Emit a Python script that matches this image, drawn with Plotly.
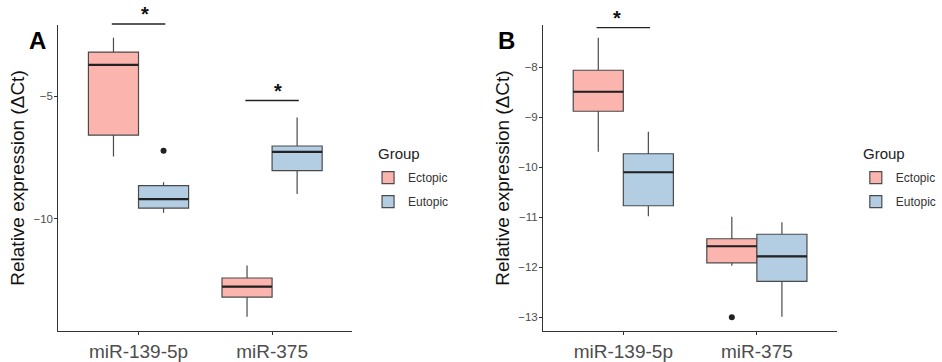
import plotly.graph_objects as go

categories = ["miR-139-5p", "miR-375"]
groups = ["Ectopic", "Eutopic"]
group_colors = {"Ectopic": "#FBB4AE", "Eutopic": "#B3CDE3"}

# Panel A statistics per group: [miR-139-5p, miR-375]
A_stats = {
    "Ectopic": dict(upper=[-2.60, -11.92], q3=[-3.19, -12.43], median=[-3.71, -12.78],
                    q1=[-6.59, -13.21], lower=[-7.46, -14.01]),
    "Eutopic": dict(upper=[-8.51, -5.87], q3=[-8.65, -7.03], median=[-9.20, -7.27],
                    q1=[-9.57, -8.04], lower=[-9.76, -8.99]),
}
A_outliers = {"Ectopic": [[], []], "Eutopic": [[-7.22], []]}
A_sig = [(0, -2.04), (1, -5.17)]
A_yrange = [-14.61, -2.07]
A_ticks = [-10, -5]

# Panel B statistics
B_stats = {
    "Ectopic": dict(upper=[-7.41, -10.99], q3=[-8.06, -11.43], median=[-8.49, -11.58],
                    q1=[-8.88, -11.91], lower=[-9.69, -11.97]),
    "Eutopic": dict(upper=[-9.29, -11.10], q3=[-9.73, -11.34], median=[-10.10, -11.78],
                    q1=[-10.77, -12.28], lower=[-10.98, -12.99]),
}
B_outliers = {"Ectopic": [[], [-13.0]], "Eutopic": [[], []]}
B_sig = [(0, -7.21)]
B_yrange = [-13.28, -7.15]
B_ticks = [-13, -12, -11, -10, -9, -8]

W, H = 942, 362
ydom = [1 - 335 / H, 1 - 25 / H]
xdomA = [59 / W, 356 / W]
xdomB = [549 / W, 846 / W]
xrange_ = [-0.6, 1.6]

dodge = 0.75
bw = dodge / 2
offsets = {"Ectopic": -bw / 2, "Eutopic": bw / 2}
line_col = "#4a4a4a"

fig = go.Figure()


def to_paper(v, rng, dom):
    return dom[0] + (v - rng[0]) / (rng[1] - rng[0]) * (dom[1] - dom[0])


def add_panel(stats, outliers, sig, xref, yref, legend_name, yrange, xdom):
    for g in groups:
        s = stats[g]
        pos = [i + offsets[g] for i in range(len(categories))]
        fig.add_trace(go.Box(
            x=pos, q1=s["q1"], median=s["median"], q3=s["q3"],
            lowerfence=s["lower"], upperfence=s["upper"],
            width=bw, whiskerwidth=0, fillcolor=group_colors[g],
            line=dict(color=line_col, width=1.2), name=g, legendgroup=g,
            xaxis=xref, yaxis=yref, legend=legend_name, boxpoints=False,
            hoverinfo="skip",
        ))
        for p, m in zip(pos, s["median"]):
            fig.add_trace(go.Scatter(
                x=[p - bw / 2, p + bw / 2], y=[m, m], mode="lines",
                line=dict(color="#222222", width=2.2), showlegend=False,
                legendgroup=g, xaxis=xref, yaxis=yref, hoverinfo="skip"))
        ox, oy = [], []
        for p, outs in zip(pos, outliers[g]):
            for o in outs:
                ox.append(p)
                oy.append(o)
        if ox:
            fig.add_trace(go.Scatter(
                x=ox, y=oy, mode="markers", marker=dict(color="#222222", size=6),
                showlegend=False, legendgroup=g, xaxis=xref, yaxis=yref,
                hoverinfo="skip"))
    for ci, yv in sig:
        yp = to_paper(yv, yrange, ydom)
        x0 = to_paper(ci - 0.2, xrange_, xdom)
        x1 = to_paper(ci + 0.2, xrange_, xdom)
        xc = to_paper(ci, xrange_, xdom)
        fig.add_shape(type="line", x0=x0, x1=x1, y0=yp, y1=yp,
                      xref="paper", yref="paper", line=dict(color="#222222", width=1.3))
        fig.add_annotation(x=xc, y=yp, xref="paper", yref="paper", text="<b>*</b>",
                           showarrow=False, yanchor="bottom", yshift=-3,
                           font=dict(size=20, color="#111111", family="Arial"))


add_panel(A_stats, A_outliers, A_sig, "x", "y", "legend", A_yrange, xdomA)
add_panel(B_stats, B_outliers, B_sig, "x2", "y2", "legend2", B_yrange, xdomB)

common_x = dict(range=xrange_, tickvals=[0, 1], ticktext=categories,
                showline=True, linecolor="#333333", linewidth=1.2, ticks="outside",
                ticklen=3, tickcolor="#333333", showgrid=False, zeroline=False,
                tickfont=dict(size=19, color="#4d4d4d", family="Arial"))
common_y = dict(showline=True, linecolor="#333333", linewidth=1.2, ticks="outside",
                ticklen=3, tickcolor="#333333", showgrid=False, zeroline=False,
                ticklabelstandoff=-1,
                tickfont=dict(size=11.5, color="#4d4d4d", family="Arial"),
                title=dict(text="Relative expression (ΔCt)", standoff=3,
                           font=dict(size=19, color="#111111", family="Arial")))

legend_common = dict(font=dict(size=12, color="#333333", family="Arial"),
                     bgcolor="rgba(0,0,0,0)", tracegroupgap=5, itemwidth=30,
                     traceorder="grouped")

fig.update_layout(
    width=W, height=H, margin=dict(l=0, r=0, t=0, b=0),
    paper_bgcolor="white", plot_bgcolor="white",
    font=dict(family="Arial"),
    xaxis=dict(domain=xdomA, anchor="y", **common_x),
    yaxis=dict(domain=ydom, anchor="x", range=A_yrange, tickvals=A_ticks, **common_y),
    xaxis2=dict(domain=xdomB, anchor="y2", **common_x),
    yaxis2=dict(domain=ydom, anchor="x2", range=B_yrange, tickvals=B_ticks, **common_y),
    legend=dict(x=372 / W, y=1 - 165 / H, xanchor="left", yanchor="top", **legend_common),
    legend2=dict(x=865 / W, y=1 - 165 / H, xanchor="left", yanchor="top", **legend_common),
    showlegend=True,
)

for xl in (380, 870):
    fig.add_annotation(x=xl / W, y=1 - 155 / H, xref="paper", yref="paper", text="Group",
                       showarrow=False, xanchor="left", yanchor="middle",
                       font=dict(size=15, color="#222222", family="Arial"))

fig.add_annotation(x=27 / W, y=1 - 25 / H, xref="paper", yref="paper", text="<b>A</b>",
                   showarrow=False, font=dict(size=24, color="black", family="Arial"))
fig.add_annotation(x=512 / W, y=1 - 25 / H, xref="paper", yref="paper", text="<b>B</b>",
                   showarrow=False, font=dict(size=24, color="black", family="Arial"))

fig.write_html("out.html")
